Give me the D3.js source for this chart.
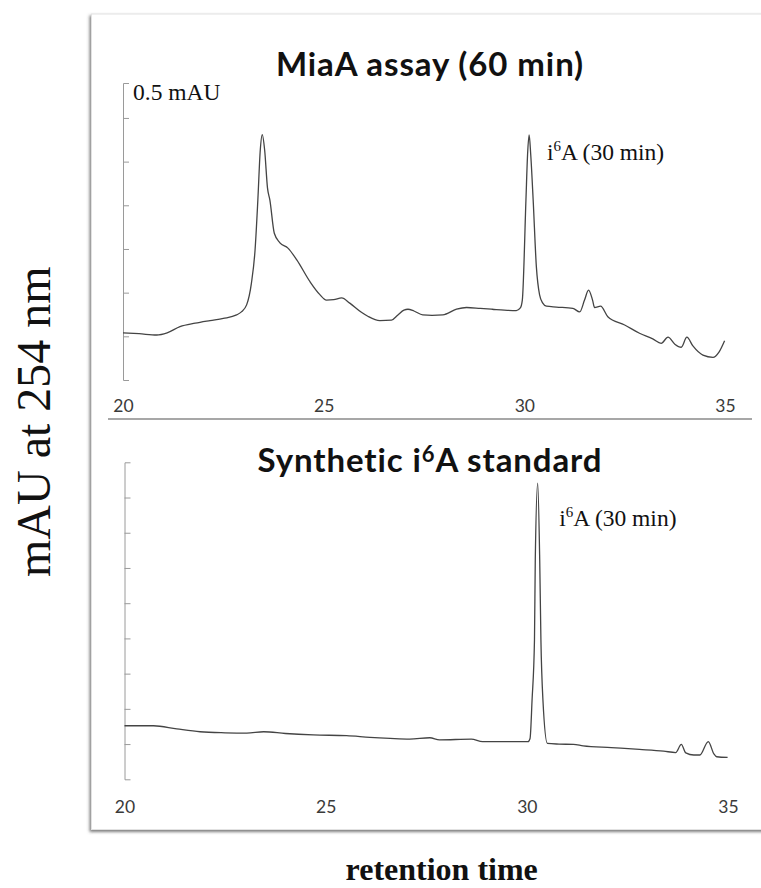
<!DOCTYPE html>
<html>
<head>
<meta charset="utf-8">
<script src="https://cdn.jsdelivr.net/npm/d3@7"></script>
<style>
  html, body { margin: 0; padding: 0; background: #fff; }
  svg { display: block; }
</style>
</head>
<body>
<svg id="chart" width="761" height="888"></svg>
<script>
// Retention-time axis labels (min)
const timeTicks = [20, 25, 30, 35];

// MiaA assay (60 min) trace: retention time (min) and absorbance (mAU)
const assayTime = [20.0, 20.4, 20.84, 21.1, 21.42, 21.8, 22.17, 22.5, 22.83, 22.95, 23.08, 23.2, 23.29, 23.36,
  23.42, 23.47, 23.53, 23.6, 23.66, 23.77, 23.91, 24.11, 24.33, 24.66, 24.9, 25.07, 25.25, 25.45, 25.65,
  25.94, 26.1, 26.4, 26.69, 26.85, 27.0, 27.1, 27.25, 27.47, 27.7, 27.97, 28.31, 28.56, 28.9, 29.2, 29.5,
  29.8, 29.9, 29.95, 30.04, 30.08, 30.12, 30.16, 30.22, 30.3, 30.38, 30.46, 30.55, 30.8, 31.21, 31.38,
  31.5, 31.6, 31.7, 31.75, 31.9, 32.08, 32.5, 32.87, 33.2, 33.41, 33.58, 33.75, 33.91, 34.05, 34.2, 34.45,
  34.7, 34.85, 34.99];
const assayMau = [0.108, 0.106, 0.103, 0.108, 0.122, 0.130, 0.136, 0.141, 0.149, 0.156, 0.172, 0.222, 0.297, 0.412,
  0.526, 0.562, 0.526, 0.44, 0.412, 0.336, 0.314, 0.302, 0.275, 0.225, 0.196, 0.183, 0.184, 0.188, 0.176,
  0.155, 0.146, 0.136, 0.137, 0.149, 0.160, 0.162, 0.158, 0.149, 0.148, 0.149, 0.162, 0.166, 0.164, 0.162, 0.160,
  0.159, 0.165, 0.183, 0.412, 0.515, 0.561, 0.515, 0.412, 0.259, 0.195, 0.176, 0.169, 0.167, 0.164, 0.156,
  0.183, 0.206, 0.183, 0.166, 0.169, 0.145, 0.126, 0.107, 0.094, 0.084, 0.098, 0.082, 0.075, 0.098, 0.078, 0.057,
  0.052, 0.064, 0.090];

// Synthetic i6A standard trace: retention time (min) and absorbance (mAU)
const standardTime = [20.0, 20.72, 21.3, 21.88, 22.5, 23.04, 23.46, 24.0, 24.69, 25.52, 26.1, 26.6, 27.09, 27.59,
  27.83, 28.62, 28.9, 29.5, 30.03, 30.08, 30.13, 30.19, 30.21, 30.27, 30.32, 30.35, 30.4, 30.51, 30.8, 31.16,
  31.4, 32.1, 32.8, 33.4, 33.7, 33.84, 33.95, 34.15, 34.3, 34.51, 34.65, 34.72, 34.99];
const standardMau = [0.152, 0.152, 0.143, 0.135, 0.132, 0.131, 0.135, 0.130, 0.126, 0.124, 0.119, 0.116, 0.114, 0.118,
  0.112, 0.114, 0.107, 0.107, 0.107, 0.116, 0.225, 0.396, 0.624, 0.841, 0.624, 0.396, 0.225, 0.102, 0.100, 0.099,
  0.095, 0.090, 0.085, 0.080, 0.076, 0.099, 0.075, 0.069, 0.069, 0.107, 0.072, 0.064, 0.062];

// Minor ticks on the absorbance axes (every 0.1 mAU)
const assayYTicks = [0.1, 0.2, 0.3, 0.4, 0.5, 0.6];
const standardYTicks = [0.1, 0.2, 0.3, 0.4, 0.5, 0.6, 0.7, 0.8];

const panelTitles = ["MiaA assay (60 min)", "Synthetic i⁶A standard"];

const svg = d3.select("#chart");

// Framed card with soft shadow
const defs = svg.append("defs");
const shadow = defs.append("filter").attr("id", "cardShadow")
  .attr("x", "-5%").attr("y", "-5%").attr("width", "110%").attr("height", "110%");
shadow.append("feDropShadow")
  .attr("dx", -1.5).attr("dy", 2).attr("stdDeviation", 1.6)
  .attr("flood-color", "#555").attr("flood-opacity", 0.75);

svg.append("rect")
  .attr("x", 91.5).attr("y", 14).attr("width", 720).attr("height", 815.5)
  .attr("fill", "#fff").attr("stroke", "#e2e2e2").attr("stroke-width", 1)
  .attr("filter", "url(#cardShadow)");

// Divider between the two panels
svg.append("line")
  .attr("x1", 108).attr("x2", 752).attr("y1", 419).attr("y2", 419)
  .attr("stroke", "#8a8a8a").attr("stroke-width", 1.6);

const panels = [
  { title: panelTitles[0], titleY: 76, time: assayTime, mau: assayMau, yTicks: assayYTicks,
    yMax: 0.68, yRange: [380, 83], xRange: [123, 725], labelY: 412,
    peakLabel: [547, 160], showUnit: true },
  { title: panelTitles[1], titleY: 471.7, time: standardTime, mau: standardMau, yTicks: standardYTicks,
    yMax: 0.9, yRange: [779.3, 462.3], xRange: [124.5, 728], labelY: 813,
    peakLabel: [559.3, 526], showUnit: false }
];

panels.forEach(p => {
  const x = d3.scaleLinear().domain([20, 35]).range(p.xRange);
  const y = d3.scaleLinear().domain([0, p.yMax]).range(p.yRange);
  const g = svg.append("g");

  // Title (superscript for the 6 in i6A)
  const t = g.append("text")
    .attr("x", 430).attr("y", p.titleY)
    .attr("text-anchor", "middle")
    .attr("font-family", "Lato, 'Open Sans', sans-serif")
    .attr("font-weight", 700).attr("font-size", 33)
    .attr("letter-spacing", 0.9)
    .attr("fill", "#111");
  if (p.title.includes("⁶")) {
    const parts = p.title.split("⁶");
    t.append("tspan").text(parts[0]);
    t.append("tspan").attr("font-size", 22).attr("dy", -10).text("6");
    t.append("tspan").attr("dy", 10).text(parts[1]);
  } else {
    t.text(p.title);
  }

  // Absorbance axis: bracket-shaped, ticks pointing inward
  const yAxis = d3.axisRight(y).tickValues(p.yTicks).tickSize(6).tickSizeOuter(6).tickFormat("");
  const ya = g.append("g").attr("transform", `translate(${x(20)},0)`).call(yAxis);
  ya.selectAll("path, line").attr("stroke", "#9a9a9a").attr("stroke-width", 1);

  // Retention-time labels, no axis line
  const xAxis = d3.axisBottom(x).tickValues(timeTicks).tickSize(0).tickPadding(0).tickFormat(d3.format("d"));
  const xa = g.append("g").attr("transform", `translate(0,${p.labelY})`).call(xAxis);
  xa.select(".domain").remove();
  xa.selectAll("text")
    .attr("dy", 0).attr("y", 0)
    .attr("font-family", "Lato, 'Open Sans', sans-serif")
    .attr("font-size", 17.5).attr("fill", "#3a3a3a");

  // Chromatogram trace
  const pts = p.time.map((tm, i) => [tm, p.mau[i]]);
  const line = d3.line().x(d => x(d[0])).y(d => y(d[1])).curve(d3.curveMonotoneX);
  g.append("path").datum(pts)
    .attr("d", line)
    .attr("fill", "none").attr("stroke", "#444").attr("stroke-width", 1.3)
    .attr("stroke-linejoin", "round");

  // Peak annotation
  const pl = g.append("text")
    .attr("x", p.peakLabel[0]).attr("y", p.peakLabel[1])
    .attr("font-family", "'Liberation Serif', 'Times New Roman', serif")
    .attr("font-size", 23.5).attr("fill", "#111");
  pl.append("tspan").text("i");
  pl.append("tspan").attr("font-size", 15).attr("dy", -9).text("6");
  pl.append("tspan").attr("dy", 9).text("A (30 min)");

  if (p.showUnit) {
    g.append("text")
      .attr("x", 133).attr("y", 100)
      .attr("font-family", "'Liberation Serif', 'Times New Roman', serif")
      .attr("font-size", 23.5).attr("fill", "#111")
      .text("0.5 mAU");
  }
});

// Axis titles
svg.append("text")
  .attr("transform", "translate(50,421.7) rotate(-90)")
  .attr("text-anchor", "middle")
  .attr("font-family", "'Liberation Serif', 'Times New Roman', serif")
  .attr("font-size", 48).attr("fill", "#111")
  .text("mAU at 254 nm");

svg.append("text")
  .attr("x", 441.7).attr("y", 880)
  .attr("text-anchor", "middle")
  .attr("font-family", "'Liberation Serif', 'Times New Roman', serif")
  .attr("font-weight", 700).attr("font-size", 32).attr("fill", "#111")
  .text("retention time");
</script>
</body>
</html>
